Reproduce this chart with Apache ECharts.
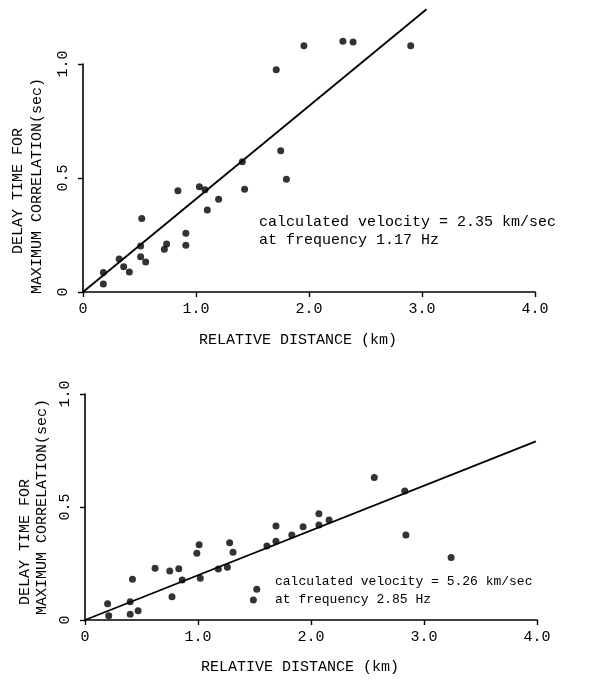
<!DOCTYPE html>
<html>
<head>
<meta charset="utf-8">
<title></title>
<style>
  html, body { margin: 0; padding: 0; background: #fff; }
  #main { width: 589px; height: 681px; }
</style>
</head>
<body>
<div id="main"></div>
<script src="https://cdn.jsdelivr.net/npm/echarts@6/dist/echarts.min.js"></script>
<script type="text/javascript">
// top panel: 1.17 Hz
var topDist  = [0.18, 0.18, 0.32, 0.36, 0.41, 0.52, 0.51, 0.51, 0.555, 0.72, 0.74, 0.84, 0.91, 0.91,
                1.03, 1.08, 1.10, 1.20, 1.41, 1.43, 1.71, 1.75, 1.80, 1.955, 2.30, 2.39, 2.90];
var topDelay = [0.085, 0.035, 0.145, 0.111, 0.088, 0.322, 0.202, 0.155, 0.132, 0.187, 0.211, 0.444, 0.258, 0.205,
                0.462, 0.448, 0.36, 0.407, 0.571, 0.451, 0.975, 0.619, 0.495, 1.08, 1.10, 1.097, 1.08];
var topFitX = [0, 3.04];
var topFitY = [0, 1.24];

// bottom panel: 2.85 Hz
var botDist  = [0.20, 0.21, 0.40, 0.42, 0.40, 0.47, 0.62, 0.75, 0.77, 0.83, 0.86, 0.99, 1.01, 1.02, 1.18, 1.26,
                1.28, 1.31, 1.49, 1.52, 1.61, 1.69, 1.69, 1.83, 1.93, 2.07, 2.07, 2.16, 2.56, 2.83, 2.84, 3.24];
var botDelay = [0.072, 0.019, 0.081, 0.18, 0.025, 0.041, 0.229, 0.217, 0.103, 0.227, 0.177, 0.295, 0.333, 0.185, 0.226, 0.233,
                0.342, 0.30, 0.088, 0.136, 0.327, 0.416, 0.348, 0.376, 0.413, 0.47, 0.42, 0.442, 0.631, 0.571, 0.376, 0.277];
var botFitX = [0, 3.99];
var botFitY = [0, 0.79];

var xTicks = [0, 1, 2, 3, 4];
var yTicks = [0, 0.5, 1];

var FONT = '"Liberation Mono", "DejaVu Sans Mono", monospace';
var INK = '#000';

function pairs(xs, ys) {
  var out = [];
  for (var i = 0; i < xs.length; i++) out.push([xs[i], ys[i]]);
  return out;
}
function tickLabel(v) { return v === 0 ? '0' : v.toFixed(1); }

function xAxisFor(idx) {
  return {
    type: 'value', gridIndex: idx, min: xTicks[0], max: xTicks[xTicks.length - 1], interval: 1,
    splitLine: { show: false },
    axisLine: { show: true, onZero: false, lineStyle: { color: INK, width: 1.6 } },
    axisTick: { show: true, inside: false, length: 5, lineStyle: { color: INK, width: 1.4 } },
    axisLabel: { color: INK, fontFamily: FONT, fontSize: 15, margin: 10, formatter: tickLabel }
  };
}
function yAxisFor(idx) {
  return {
    type: 'value', gridIndex: idx, min: yTicks[0], max: yTicks[yTicks.length - 1], interval: 0.5,
    splitLine: { show: false },
    axisLine: { show: true, onZero: false, lineStyle: { color: INK, width: 1.6 } },
    axisTick: { show: true, inside: false, length: 5, lineStyle: { color: INK, width: 1.4 } },
    axisLabel: { color: INK, fontFamily: FONT, fontSize: 15, margin: 12, rotate: 90, formatter: tickLabel }
  };
}
function plain(x, y, s, size) {
  return {
    type: 'text', x: x, y: y,
    style: { text: s, fill: INK, font: size + 'px ' + FONT, textAlign: 'left', textVerticalAlign: 'middle' }
  };
}
function centred(x, y, s, size) {
  return {
    type: 'text', x: x, y: y,
    style: { text: s, fill: INK, font: size + 'px ' + FONT, textAlign: 'center', textVerticalAlign: 'middle' }
  };
}
function rotated(x, y, s, size) {
  var t = centred(x, y, s, size);
  t.rotation = Math.PI / 2;
  return t;
}

var myChart = echarts.init(document.getElementById('main'));
var option = {
  backgroundColor: '#fff',
  animation: false,
  grid: [
    { left: 83, top: 64, width: 452, height: 228 },
    { left: 85, top: 394, width: 452, height: 226 }
  ],
  xAxis: [xAxisFor(0), xAxisFor(1)],
  yAxis: [yAxisFor(0), yAxisFor(1)],
  series: [
    { type: 'scatter', xAxisIndex: 0, yAxisIndex: 0, symbolSize: 7, clip: false, itemStyle: { color: INK },
      data: pairs(topDist, topDelay) },
    { type: 'line', xAxisIndex: 0, yAxisIndex: 0, clip: false, showSymbol: false, silent: true,
      lineStyle: { color: INK, width: 1.8 }, data: pairs(topFitX, topFitY) },
    { type: 'scatter', xAxisIndex: 1, yAxisIndex: 1, symbolSize: 7, clip: false, itemStyle: { color: INK },
      data: pairs(botDist, botDelay) },
    { type: 'line', xAxisIndex: 1, yAxisIndex: 1, clip: false, showSymbol: false, silent: true,
      lineStyle: { color: INK, width: 1.8 }, data: pairs(botFitX, botFitY) }
  ],
  graphic: [
    rotated(18, 191, 'DELAY TIME FOR', 15),
    rotated(37, 186, 'MAXIMUM CORRELATION(sec)', 15),
    plain(259, 222, 'calculated velocity = 2.35 km/sec', 15),
    plain(259, 240, 'at frequency 1.17 Hz', 15),
    centred(298, 340, 'RELATIVE DISTANCE (km)', 15),

    rotated(25, 542, 'DELAY TIME FOR', 15),
    rotated(42, 507, 'MAXIMUM CORRELATION(sec)', 15),
    plain(275, 582, 'calculated velocity = 5.26 km/sec', 13),
    plain(275, 600, 'at frequency 2.85 Hz', 13),
    centred(300, 667, 'RELATIVE DISTANCE (km)', 15)
  ]
};
myChart.setOption(option);
</script>
</body>
</html>
